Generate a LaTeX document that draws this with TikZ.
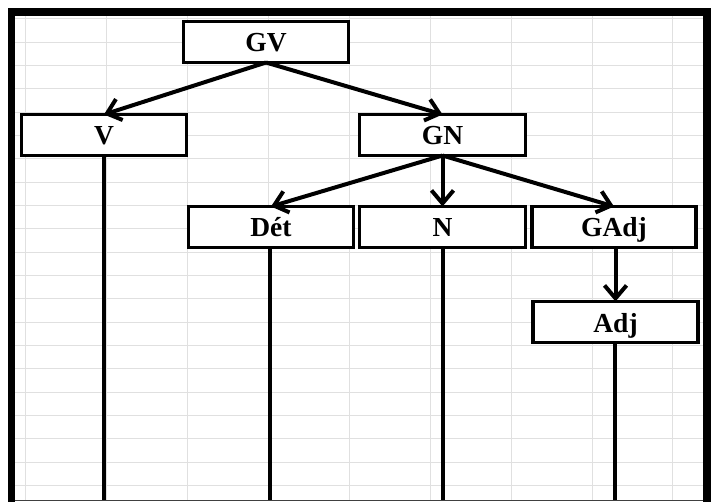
\documentclass[tikz,border=0pt]{standalone}
\usepackage{fontspec}
\setmainfont{Liberation Serif}
\usetikzlibrary{arrows.meta}
\definecolor{gridc}{RGB}{224,224,224}
\begin{document}
\begin{tikzpicture}[x=1pt,y=-1pt,
  box/.style={draw=black, fill=white, line width=3.3pt, minimum width=165pt, minimum height=41pt, inner sep=0pt, outer sep=0pt, text height=23pt, text depth=3pt, font=\fontsize{27.5}{30}\selectfont\bfseries},
  arr/.style={line width=4pt, -{Straight Barb[length=13pt,width=22pt,line width=4pt]}},
  stem/.style={line width=4.5pt}]
\useasboundingbox (0,0) rectangle (711,502);
\fill[white] (0,0) rectangle (711,502);
% grid
\foreach \k in {0,...,8} \draw[gridc, line width=1pt] ({25.7+80.9*\k},16) -- ({25.7+80.9*\k},500);
\foreach \k in {0,...,20} \draw[gridc, line width=1pt] (15,{19+23.33*\k}) -- (703,{19+23.33*\k});
% frame
\fill[black] (8,8) rectangle (711,16);
\fill[black] (8,8) rectangle (15,502);
\fill[black] (703,8) rectangle (711,502);
\draw[black!75, line width=1pt] (15,500) -- (703,500);
% nodes
\node[box] (GV) at (266,42) {GV};
\node[box] (V) at (104,135) {V};
\node[box, minimum width=166pt] (GN) at (442.5,135) {GN};
\node[box] (Det) at (271,227) {Dét};
\node[box, minimum width=166pt] (N) at (442.5,227) {N};
\node[box, minimum width=164pt] (GAdj) at (614,227) {GAdj};
\node[box] (Adj) at (615.5,322) {Adj};
\coordinate (eV) at (104,500);
\coordinate (eDet) at (270,500);
\coordinate (eN) at (443,500);
\coordinate (eAdj) at (615,500);
% connectors
\draw[arr] (GV.south) -- (V.north);
\draw[arr] (GV.south) -- (GN.north);
\draw[arr] (GN.south) -- (Det.north);
\draw[arr] (GN.south) -- (N.north);
\draw[arr] (GN.south) -- (GAdj.north);
\draw[arr] (GAdj.south -| Adj.north) -- (Adj.north);
\draw[stem] (V.south -| eV) -- (eV);
\draw[stem] (Det.south -| eDet) -- (eDet);
\draw[stem] (N.south -| eN) -- (eN);
\draw[stem] (Adj.south -| eAdj) -- (eAdj);
\end{tikzpicture}
\end{document}
